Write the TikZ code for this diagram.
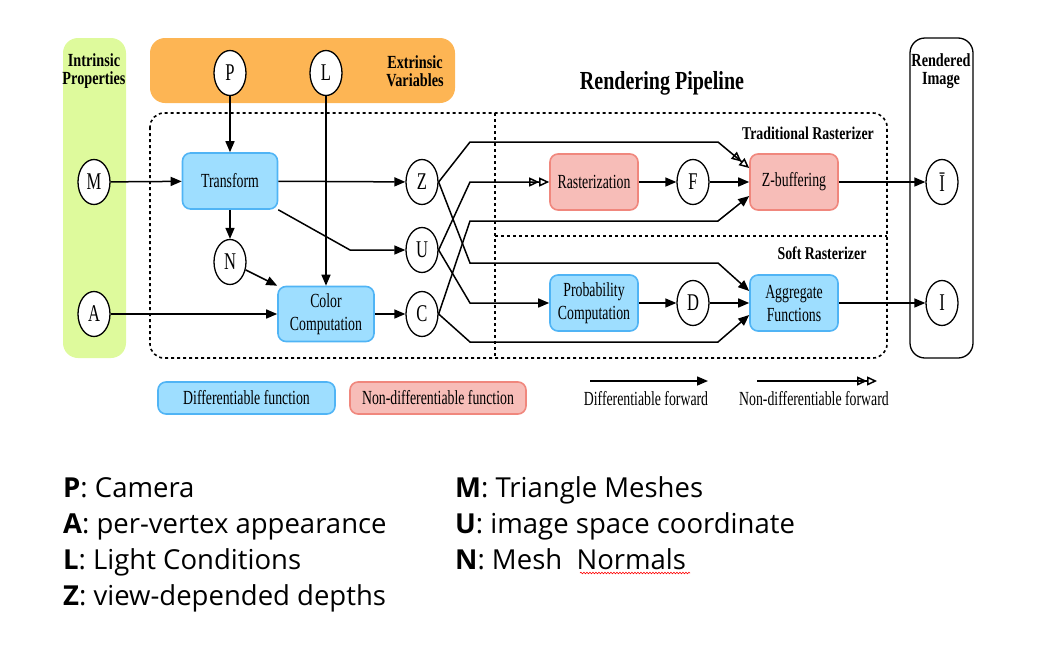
\documentclass[tikz,border=0pt]{standalone}
\usepackage{fontspec}
\setmainfont{Liberation Serif}[FakeStretch=0.69]
\newfontfamily\bfam{Liberation Serif}[FakeStretch=0.77]
\newfontfamily\btm{Open Sans}
\usetikzlibrary{shapes.geometric,arrows.meta,decorations.pathmorphing}
\definecolor{bfill}{RGB}{158,222,255}
\definecolor{bborder}{RGB}{80,180,245}
\definecolor{pfill}{RGB}{247,189,184}
\definecolor{pborder}{RGB}{240,135,125}
\definecolor{gfill}{RGB}{222,250,156}
\definecolor{ofill}{RGB}{253,181,84}
\tikzset{
  circ/.style={ellipse, draw, line width=1.3pt, fill=white, minimum width=32pt, minimum height=45pt, inner sep=0pt, font=\fontsize{24}{26}\selectfont},
  dbox/.style={rounded corners=8pt, draw=bborder, fill=bfill, line width=1.6pt, minimum width=95pt, minimum height=56pt, align=center, inner sep=2pt, font=\fontsize{20}{23}\selectfont},
  nbox/.style={dbox, draw=pborder, fill=pfill},
  conn/.style={line width=1.5pt, -{Triangle[length=11pt,width=9pt]}},
  oconn/.style={line width=1.5pt, -{Triangle[open,length=10pt,width=9pt]Triangle[open,length=10pt,width=9pt]}},
  grp/.style={font=\bfam\bfseries\fontsize{18.5}{20}\selectfont, align=center},
  dash box/.style={line width=1.6pt, dash pattern=on 3pt off 3pt},
  lgtxt/.style={font=\fontsize{20}{22}\selectfont},
  btmtxt/.style={anchor=base west, font=\btm\fontsize{27.5}{30}\selectfont, inner sep=0pt}
}
\begin{document}
\begin{tikzpicture}[x=1pt,y=-1pt]
\useasboundingbox (0,0) rectangle (1042,659);
% group boxes
\fill[gfill, rounded corners=15pt] (63,38) rectangle (126,358);
\fill[ofill, rounded corners=15pt] (150,38) rectangle (455,103);
\draw[line width=1.3pt, rounded corners=15pt] (910,38) rectangle (973,358);
\draw[dash box, rounded corners=14pt] (150,113) rectangle (887,358);
\draw[dash box] (495,113) -- (495,358);
\draw[dash box] (495,236) -- (887,236);
% group labels
\node[grp] (lintr) at (94,71) {Intrinsic\\[-2pt]Properties};
\node[grp] (lextr) at (415,71) {Extrinsic\\[-2pt]Variables};
\node[grp] (lrend) at (941,71) {Rendered\\[-2pt]Image};
\node[font=\bfam\bfseries\fontsize{26}{28}\selectfont] (lpipe) at (662,83) {Rendering Pipeline};
\node[font=\bfam\bfseries\fontsize{18}{20}\selectfont] (ltrad) at (808,133) {Traditional Rasterizer};
\node[font=\bfam\bfseries\fontsize{18}{20}\selectfont] (lsoft) at (822,253) {Soft Rasterizer};
% variable nodes
\node[circ] (M) at (94,182) {M};
\node[circ] (A) at (94,314) {A};
\node[circ] (P) at (230,73) {P};
\node[circ] (L) at (326,73) {L};
\node[circ] (N) at (230,262) {N};
\node[circ] (Z) at (422,182) {Z};
\node[circ] (U) at (422,250) {U};
\node[circ] (C) at (422,314) {C};
\node[circ] (F) at (693,182) {F};
\node[circ] (D) at (693,303) {D};
\node[circ] (Ib) at (942,182) {Ī};
\node[circ] (I) at (942,303) {I};
% function boxes
\node[dbox] (Tr) at (230,181) {Transform};
\node[dbox, minimum width=96pt, minimum height=55pt] (Col) at (326,314) {Color\\Computation};
\node[nbox, minimum width=88pt] (Ras) at (594,182) {Rasterization};
\node[nbox, minimum width=88pt] (Zb) at (794,182) {Z-buffering};
\node[dbox, minimum width=88pt] (Pro) at (594,303) {Probability\\Computation};
\node[dbox, minimum width=88pt] (Agg) at (794,303) {Aggregate\\Functions};
% bend points
\coordinate (tu) at (350,250);
\coordinate (z1) at (470,142); \coordinate (z1b) at (718,142);
\coordinate (z2) at (470,263); \coordinate (z2b) at (718,263);
\coordinate (u1) at (470,182);
\coordinate (u2) at (470,303);
\coordinate (c1) at (470,221); \coordinate (c1b) at (718,221);
\coordinate (c2) at (470,342); \coordinate (c2b) at (718,342);
% connectors
\draw[conn] (M) -- (Tr);
\draw[conn] (P) -- (Tr);
\draw[conn] (Tr) -- (Z);
\draw[conn] (Tr.south east) -- (tu) -- (U);
\draw[conn] (Tr) -- (N);
\draw[conn] (N) -- (Col.north west);
\draw[conn] (L) -- (Col);
\draw[conn] (A) -- (Col);
\draw[conn] (Col) -- (C);
\draw[oconn] (Z.east) -- (z1) -- (z1b) -- ([yshift=14pt]Zb.west);
\draw[conn] (Z.east) -- (z2) -- (z2b) -- ([yshift=12pt]Agg.west);
\draw[oconn] (U.east) -- (u1) -- (Ras.west);
\draw[conn] (U.east) -- (u2) -- (Pro.west);
\draw[conn] (C.east) -- (c1) -- (c1b) -- ([yshift=-14pt]Zb.west);
\draw[conn] (C.east) -- (c2) -- (c2b) -- ([yshift=-12pt]Agg.west);
\draw[conn] (Ras) -- (F);
\draw[conn] (F) -- (Zb);
\draw[conn] (Pro) -- (D);
\draw[conn] (D) -- (Agg);
\draw[conn] (Zb) -- (Ib);
\draw[conn] (Agg) -- (I);
% legend
\node[dbox, minimum width=177pt, minimum height=32pt] (lgd) at (246.5,398) {Differentiable function};
\node[nbox, minimum width=176pt, minimum height=32pt] (lgn) at (438,398) {Non-differentiable function};
\coordinate (la1) at (590,381); \coordinate (la2) at (708,381);
\coordinate (lb1) at (757,381); \coordinate (lb2) at (877,381);
\draw[conn] (la1) -- (la2);
\draw[oconn] (lb1) -- (lb2);
\node[lgtxt] (lgt1) at (646,399) {Differentiable forward};
\node[lgtxt] (lgt2) at (814,399) {Non-differentiable forward};
% bottom text
\node[btmtxt] (t1) at (63,497) {\textbf{P}: Camera};
\node[btmtxt] (t2) at (63,533) {\textbf{A}: per-vertex appearance};
\node[btmtxt] (t3) at (63,569) {\textbf{L}: Light Conditions};
\node[btmtxt] (t4) at (63,605) {\textbf{Z}: view-depended depths};
\node[btmtxt] (t5) at (455,497) {\textbf{M}: Triangle Meshes};
\node[btmtxt] (t6) at (455,533) {\textbf{U}: image space coordinate};
\node[btmtxt] (t7) at (455,569) {\textbf{N}: Mesh\ \ Normals};
\draw[red, line width=0.6pt, decorate, decoration={snake, amplitude=0.8pt, segment length=3pt}] (580,573) -- (690,573);
\end{tikzpicture}
\end{document}
